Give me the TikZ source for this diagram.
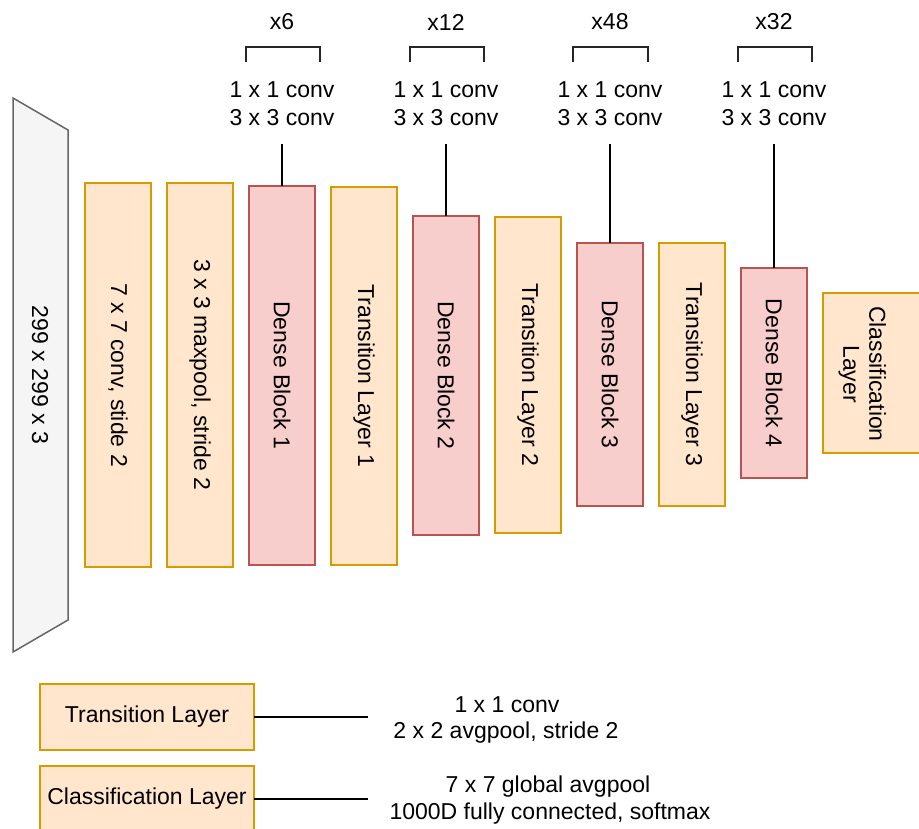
\documentclass[tikz,border=0pt]{standalone}
\usepackage{fontspec}
\setmainfont{Liberation Sans}
\definecolor{ofill}{HTML}{FFE6CC}
\definecolor{ostroke}{HTML}{D79B00}
\definecolor{pfill}{HTML}{F8CECC}
\definecolor{pstroke}{HTML}{B85450}
\definecolor{gfill}{HTML}{F5F5F5}
\definecolor{gstroke}{HTML}{666666}
\begin{document}
\begin{tikzpicture}[x=1pt,y=-1pt,
  every node/.style={font=\fontsize{23}{28}\selectfont, inner sep=0pt, outer sep=0pt},
  obox/.style={draw=ostroke, fill=ofill, line width=1.6pt, minimum width=66pt},
  pbox/.style={draw=pstroke, fill=pfill, line width=1.6pt, minimum width=66pt},
  wire/.style={draw=black, line width=1.5pt},
  brk/.style={draw=black!85, line width=1.5pt},
  lbl/.style={align=center}]
\useasboundingbox (0,0) rectangle (919,829);
\clip (0,0) rectangle (919,829);
% input trapezoid
\path[draw=gstroke, fill=gfill, line width=1.5pt] (13,98) -- (68,130) -- (68,620) -- (13,652) -- cycle;
\node (inp) at (40,375) {\rotatebox{-90}{299 x 299 x 3}};
% main column
\node[obox, minimum height=384pt] (c7) at (118,375) {\rotatebox{-90}{7 x 7 conv, stide 2}};
\node[obox, minimum height=384pt] (mp) at (200,375) {\rotatebox{-90}{3 x 3 maxpool, stride 2}};
\node[pbox, minimum height=379pt] (db1) at (282,375.5) {\rotatebox{-90}{Dense Block 1}};
\node[obox, minimum height=378pt] (tl1) at (364,376) {\rotatebox{-90}{Transition Layer 1}};
\node[pbox, minimum height=319pt] (db2) at (446,375.5) {\rotatebox{-90}{Dense Block 2}};
\node[obox, minimum height=316pt] (tl2) at (528,375) {\rotatebox{-90}{Transition Layer 2}};
\node[pbox, minimum height=263pt] (db3) at (610,374.5) {\rotatebox{-90}{Dense Block 3}};
\node[obox, minimum height=263pt] (tl3) at (692,374.5) {\rotatebox{-90}{Transition Layer 3}};
\node[pbox, minimum height=210pt] (db4) at (774,373) {\rotatebox{-90}{Dense Block 4}};
\node[obox, minimum width=127pt, minimum height=160pt] (clsbox) at (886.5,373) {};
\node (clstext) at (862,374) {\rotatebox{-90}{\begin{tabular}{@{}c@{}}Classification\\[-2pt]Layer\end{tabular}}};
% dense block annotations
\foreach \n/\x/\rep/\a/\b in {db1/282/x6/246/320, db2/446/x12/410/484, db3/610/x48/573/648, db4/774/x32/738/812}{
  \node (\n rep) at (\x,22) {\rep};
  \node[lbl] (\n txt) at (\x,104) {1 x 1 conv\\3 x 3 conv};
  \coordinate (\n top) at (\x,144);
  \draw[wire] (\n top) -- (\n.north);
  \draw[brk] (\a,62) -- (\a,47) -- (\b,47) -- (\b,62);
}
% legend
\node[obox, minimum width=214pt, minimum height=66pt] (tleg) at (147,717) {Transition Layer};
\node[obox, minimum width=214pt, minimum height=66pt] (cleg) at (147,799) {Classification Layer};
\coordinate (tend) at (368,717);
\coordinate (cend) at (368,799);
\draw[wire] (tleg.east) -- (tend);
\draw[wire] (cleg.east) -- (cend);
\node (tdesc1) at (507,705) {1 x 1 conv};
\node (tdesc2) at (506,733) {2 x 2 avgpool, stride 2};
\node (cdesc1) at (548,787) {7 x 7 global avgpool};
\node (cdesc2) at (550,814) {1000D fully connected, softmax};
\end{tikzpicture}
\end{document}
